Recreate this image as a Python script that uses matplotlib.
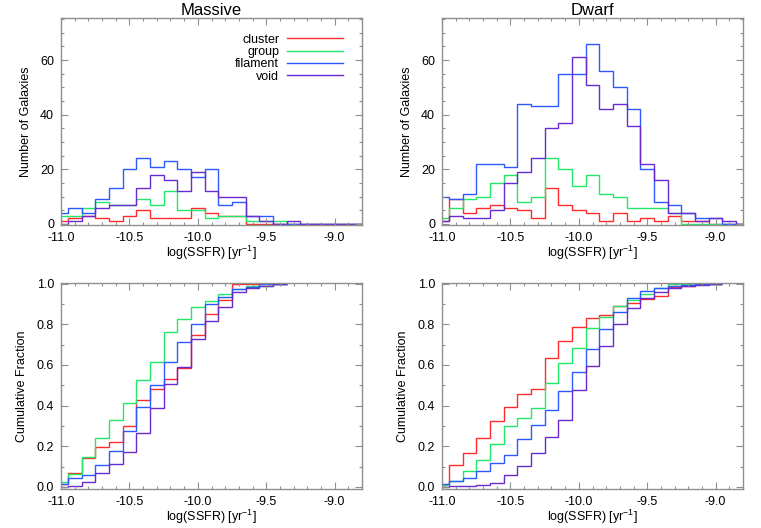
import numpy as np
import matplotlib
matplotlib.use('Agg')
import matplotlib.pyplot as plt
from matplotlib.lines import Line2D
from matplotlib.ticker import MultipleLocator, FormatStrFormatter

plt.rcParams['font.family'] = ['Liberation Sans', 'DejaVu Sans']
plt.rcParams['axes.unicode_minus'] = False
plt.rcParams['mathtext.default'] = 'regular'

# bin centres of log(SSFR)
bins = [-11.0, -10.9, -10.8, -10.7, -10.6, -10.5, -10.4, -10.3, -10.2, -10.1,
        -10.0, -9.9, -9.8, -9.7, -9.6, -9.5, -9.4, -9.3, -9.2, -9.1,
        -9.0, -8.9, -8.8]

# histograms (number of galaxies per bin)
mas_cluster = [1, 2, 3, 2, 1, 3, 5, 2, 2, 2, 6, 4, 3, 3, 0, 0, 0, 0, 0, 0, 0, 0, 0]
mas_group = [3, 3, 6, 8, 7, 7, 9, 7, 12, 5, 5, 2, 3, 3, 1, 1, 1, 0, 0, 0, 0, 0, 0]
mas_filament = [4, 6, 4, 9, 13, 20, 24, 21, 23, 20, 17, 20, 7, 8, 3, 3, 0, 0, 0, 0, 0, 0, 0]
mas_void = [0, 1, 3, 6, 7, 7, 13, 18, 16, 12, 19, 12, 10, 10, 3, 1, 0, 1, 0, 0, 0, 0, 0]

dw_cluster = [1, 9, 4, 6, 7, 6, 5, 2, 13, 7, 5, 4, 1, 4, 1, 2, 1, 3, 1, 1, 0, 0, 0]
dw_group = [2, 6, 9, 10, 15, 18, 8, 10, 24, 20, 14, 18, 11, 10, 6, 6, 6, 4, 0, 0, 0, 0, 0]
dw_filament = [10, 9, 11, 22, 22, 21, 44, 43, 43, 55, 55, 66, 56, 50, 42, 20, 8, 7, 4, 2, 2, 0, 0]
dw_void = [1, 3, 2, 2, 5, 15, 19, 24, 35, 37, 61, 51, 42, 44, 36, 22, 16, 4, 4, 1, 2, 1, 0]

# cumulative fractions (massive: -11.0 .. -9.4, dwarf: -11.0 .. -9.0)
mas_cum_cluster = [0.015, 0.07, 0.14, 0.195, 0.22, 0.30, 0.43, 0.48, 0.53, 0.585, 0.745,
                   0.85, 0.92, 1.0, 1.0, 1.0, 1.0]
mas_cum_group = [0.025, 0.065, 0.145, 0.24, 0.33, 0.415, 0.525, 0.615, 0.76, 0.825, 0.885,
                 0.915, 0.95, 0.975, 0.99, 0.99, 1.0]
mas_cum_filament = [0.015, 0.045, 0.06, 0.11, 0.175, 0.275, 0.395, 0.50, 0.615, 0.715, 0.80,
                    0.90, 0.935, 0.975, 0.985, 1.0, 1.0]
mas_cum_void = [0.0, 0.005, 0.025, 0.07, 0.115, 0.17, 0.265, 0.39, 0.505, 0.59, 0.73,
                0.815, 0.885, 0.96, 0.98, 0.99, 1.0]

dw_cum_cluster = [0.01, 0.11, 0.165, 0.24, 0.325, 0.395, 0.455, 0.48, 0.635, 0.72, 0.785,
                  0.83, 0.845, 0.89, 0.905, 0.925, 0.94, 0.985, 0.99, 1.0, 1.0]
dw_cum_group = [0.01, 0.03, 0.08, 0.135, 0.21, 0.30, 0.34, 0.39, 0.51, 0.61, 0.685,
                0.78, 0.835, 0.89, 0.92, 0.95, 0.98, 1.0, 1.0, 1.0, 1.0]
dw_cum_filament = [0.015, 0.03, 0.045, 0.08, 0.12, 0.155, 0.235, 0.305, 0.38, 0.47, 0.565,
                   0.68, 0.775, 0.86, 0.93, 0.965, 0.98, 0.99, 0.995, 1.0, 1.0]
dw_cum_void = [0.0, 0.005, 0.007, 0.01, 0.02, 0.06, 0.105, 0.165, 0.245, 0.33, 0.475,
               0.595, 0.695, 0.80, 0.88, 0.93, 0.96, 0.98, 0.99, 0.995, 1.0]

names = ['cluster', 'group', 'filament', 'void']
colors = ['#ff2b2b', '#22e86a', '#2a5aff', '#6a2ad2']
gray = '#8f8f8f'
lw = 1.0

W, H = 761, 528
fig = plt.figure(figsize=(W / 100, H / 100), dpi=100)


def pix_axes(l, t, r, b):
    return fig.add_axes([l / W, 1 - b / H, (r - l) / W, (b - t) / H])


def step_edges(n):
    x = np.asarray(bins[:n])
    return np.append(x - 0.05, x[-1] + 0.05)


def style(ax, ymaj, ymin, yfmt):
    ax.set_xlim(-11.0, -8.8)
    ax.xaxis.set_major_locator(MultipleLocator(0.5))
    ax.xaxis.set_minor_locator(MultipleLocator(0.1))
    ax.xaxis.set_major_formatter(FormatStrFormatter('%.1f'))
    ax.yaxis.set_major_locator(MultipleLocator(ymaj))
    ax.yaxis.set_minor_locator(MultipleLocator(ymin))
    ax.yaxis.set_major_formatter(FormatStrFormatter(yfmt))
    ax.tick_params(which='both', direction='in', top=True, right=True,
                   color=gray, width=0.8, labelsize=9, pad=5)
    ax.tick_params(which='major', length=5)
    ax.tick_params(which='minor', length=2.5)
    for s in ax.spines.values():
        s.set_color(gray)
        s.set_linewidth(1.0)
    ax.set_xlabel('log(SSFR) [yr$^{-1}$]', fontsize=9, labelpad=0)


def hist_panel(ax, series, title):
    for vals, c in zip(series, colors):
        ax.stairs(vals, step_edges(len(vals)), baseline=None, color=c, lw=lw)
    ax.set_ylim(-0.4, 75.4)
    style(ax, 20, 5, '%d')
    ax.set_ylabel('Number of Galaxies', fontsize=9, labelpad=6)
    ax.set_title(title, fontsize=12, pad=1)


def cum_panel(ax, series):
    for vals, c in zip(series, colors):
        ax.stairs(vals, step_edges(len(vals)), baseline=None, color=c, lw=lw)
    ax.set_ylim(-0.01, 1.003)
    style(ax, 0.2, 0.1, '%.1f')
    ax.set_ylabel('Cumulative Fraction', fontsize=9, labelpad=6)


ax1 = pix_axes(61, 18, 362, 225)
hist_panel(ax1, [mas_cluster, mas_group, mas_filament, mas_void], 'Massive')
handles = [Line2D([], [], color=c, lw=lw) for c in colors]
ax1.legend(handles, names, loc='upper right', bbox_to_anchor=(0.937, 0.925),
           frameon=False, markerfirst=False, fontsize=9, handlelength=4.5,
           handletextpad=0.6, labelspacing=0.03, borderpad=0, borderaxespad=0)

ax2 = pix_axes(442, 18, 743, 225)
hist_panel(ax2, [dw_cluster, dw_group, dw_filament, dw_void], 'Dwarf')

ax3 = pix_axes(61, 283, 362, 489)
cum_panel(ax3, [mas_cum_cluster, mas_cum_group, mas_cum_filament, mas_cum_void])

ax4 = pix_axes(442, 283, 743, 489)
cum_panel(ax4, [dw_cum_cluster, dw_cum_group, dw_cum_filament, dw_cum_void])

plt.savefig('out.png', dpi=100)
